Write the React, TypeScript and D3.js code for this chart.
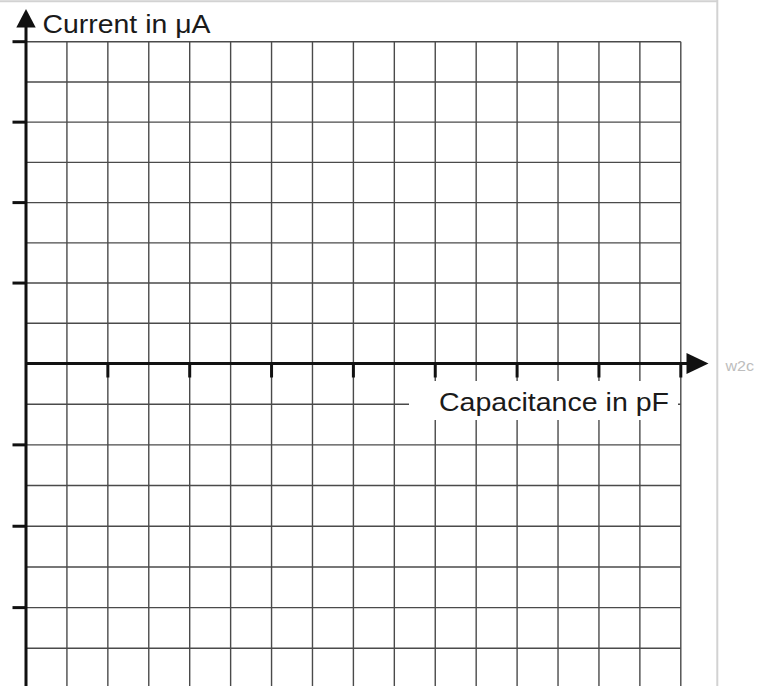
import React from "react";
import * as d3 from "d3";

const gridColumns = [1, 2, 3, 4, 5, 6, 7, 8, 9, 10, 11, 12, 13, 14, 15, 16];
const gridRows = [8, 7, 6, 5, 4, 3, 2, 1, -1, -2, -3, -4, -5, -6, -7];
const xTicks = [2, 4, 6, 8, 10, 12, 14, 16];
const yTicks = [8, 6, 4, 2, -2, -4, -6];
const yLabel = "Current in \u03bcA";
const xLabel = "Capacitance in pF";
const watermark = "w2c";

const W = 771;
const H = 686;

export default function App() {
  const x = d3.scaleLinear().domain([0, 16]).range([26, 680.8]);
  const y = d3.scaleLinear().domain([8, 0, -7]).range([41.7, 363.5, 648.3]);
  const x0 = x(0);
  const y0 = y(0);
  const xMax = x(16);
  const yTop = y(8);
  const font = "'Liberation Sans', Arial, Helvetica, sans-serif";
  const gridStroke = "#4a4a4a";

  return (
    <svg
      width={W}
      height={H}
      viewBox={`0 0 ${W} ${H}`}
      style={{ position: "absolute", left: 0, top: 0, background: "#fff" }}
    >
      <rect x={0} y={0} width={W} height={H} fill="#fff" />
      {/* frame */}
      <line x1={0} x2={718} y1={1.2} y2={1.2} stroke="#d2d2d2" strokeWidth={2} />
      <line x1={717.3} x2={717.3} y1={0} y2={H} stroke="#d2d2d2" strokeWidth={2} />

      {/* vertical grid lines */}
      {gridColumns.map((c) => (
        <line key={"v" + c} x1={x(c)} x2={x(c)} y1={yTop} y2={H} stroke={gridStroke} strokeWidth={1.4} />
      ))}
      {/* horizontal grid lines */}
      {gridRows.map((r) => (
        <line key={"h" + r} x1={x0} x2={xMax} y1={y(r)} y2={y(r)} stroke={gridStroke} strokeWidth={1.4} />
      ))}

      {/* label background */}
      <rect x={409} y={381} width={269} height={39} fill="#fff" />
      <text
        x={439}
        y={411}
        fontFamily={font}
        fontSize={26.5}
        textLength={230}
        lengthAdjust="spacingAndGlyphs"
        fill="#1a1a1a"
      >
        {xLabel}
      </text>

      {/* y ticks */}
      {yTicks.map((t) => (
        <line key={"yt" + t} x1={12.5} x2={x0} y1={y(t)} y2={y(t)} stroke="#111" strokeWidth={3} />
      ))}
      {/* x ticks */}
      {xTicks.map((t) => (
        <line key={"xt" + t} x1={x(t)} x2={x(t)} y1={y0} y2={y0 + 14} stroke="#111" strokeWidth={3} />
      ))}

      {/* axes */}
      <line x1={x0} x2={x0} y1={26} y2={H} stroke="#111" strokeWidth={3} />
      <line x1={x0} x2={688} y1={y0} y2={y0} stroke="#111" strokeWidth={3.2} />
      <path d={`M${x0},9 L${x0 - 9.7},27.5 L${x0 + 9.7},27.5 Z`} fill="#111" />
      <path d={`M708.5,${y0} L686.5,${y0 - 10.5} L686.5,${y0 + 10.5} Z`} fill="#111" />

      <text x={42.5} y={33.3} fontFamily={font} fontSize={25.5} textLength={168} lengthAdjust="spacingAndGlyphs" fill="#1a1a1a">
        {yLabel}
      </text>

      <text x={725.5} y={370.7} fontFamily={font} fontSize={15} textLength={28.6} lengthAdjust="spacingAndGlyphs" fill="#bdbdbd">
        {watermark}
      </text>
    </svg>
  );
}
